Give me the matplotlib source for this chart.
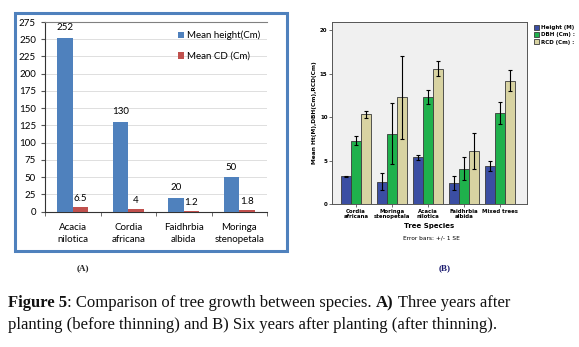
import matplotlib
matplotlib.use("Agg")
import matplotlib.pyplot as plt
import numpy as np
from matplotlib.patches import Rectangle

# Panel A data (three years after planting)
species_a = ["Acacia\nnilotica", "Cordia\nafricana", "Faidhrbia\nalbida", "Moringa\nstenopetala"]
mean_height = [252, 130, 20, 50]
mean_cd = [6.5, 4, 1.2, 1.8]
height_lbl = ["252", "130", "20", "50"]
cd_lbl = ["6.5", "4", "1.2", "1.8"]

# Panel B data (six years after planting)
species_b = ["Cordia\nafricana", "Moringa\nstenopetala", "Acacia\nnilotica", "Faidhrbia\nalbida", "Mixed trees"]
height_m = [3.2, 2.6, 5.4, 2.4, 4.4]
height_se = [0.1, 1.0, 0.3, 0.8, 0.55]
dbh_cm = [7.3, 8.1, 12.35, 4.1, 10.5]
dbh_se = [0.5, 3.5, 0.8, 1.35, 1.25]
rcd_cm = [10.35, 12.3, 15.6, 6.1, 14.2]
rcd_se = [0.4, 4.8, 0.85, 2.05, 1.2]

W, H = 579, 347
fig = plt.figure(figsize=(W / 100, H / 100), dpi=100)
fig.patch.set_facecolor("white")

def fx(px):
    return px / W

def fy(py):
    return 1 - py / H

# ---------- Panel A ----------
fig.patches.append(Rectangle((fx(15), fy(251)), fx(287) - fx(15), fy(13) - fy(251),
                             transform=fig.transFigure, fill=False,
                             edgecolor="#4f81bd", linewidth=2.2))

axa = fig.add_axes([fx(45), fy(211.7), fx(267) - fx(45), fy(22) - fy(211.7)])
xa = np.arange(len(species_a))
bw = 0.28
b1 = axa.bar(xa - 0.14, mean_height, bw, color="#4f81bd", label="Mean height(Cm)", zorder=3)
b2 = axa.bar(xa + 0.14, mean_cd, bw, color="#c0504d", label="Mean CD (Cm)", zorder=3)
for rect, s in zip(b1, height_lbl):
    axa.annotate(s, (rect.get_x() + rect.get_width() / 2, rect.get_height()),
                 xytext=(0, 4), textcoords="offset points", ha="center", va="bottom",
                 fontsize=7, family="Lato")
for rect, s in zip(b2, cd_lbl):
    axa.annotate(s, (rect.get_x() + rect.get_width() / 2, rect.get_height()),
                 xytext=(0, 3), textcoords="offset points", ha="center", va="bottom",
                 fontsize=7, family="Lato")

axa.set_xlim(-0.5, 3.5)
axa.set_ylim(0, 275)
axa.set_yticks(np.arange(0, 276, 25))
axa.yaxis.grid(True, color="#d9d9d9", linewidth=0.6, zorder=0)
axa.set_axisbelow(True)
axa.set_xticks(xa)
axa.set_xticklabels(species_a, fontsize=7, family="Lato", linespacing=1.5)
axa.tick_params(axis="x", length=0, pad=8)
axa.set_xticks(np.arange(-0.5, 3.6, 1), minor=True)
axa.tick_params(axis="x", which="minor", length=3, direction="out", color="#555555")
axa.tick_params(axis="y", labelsize=7, length=3, color="#555555")
for t in axa.get_yticklabels():
    t.set_family("Lato")
axa.spines["right"].set_visible(False)
axa.spines["top"].set_color("#808080")
axa.spines["left"].set_color("#333333")
axa.spines["bottom"].set_color("#333333")
axa.legend(loc="upper right", bbox_to_anchor=(1.01, 1.0), frameon=False,
           prop={"family": "Lato", "size": 7}, handlelength=0.6, handleheight=0.6,
           handletextpad=0.3, labelspacing=1.2)

fig.text(fx(83), fy(268), "(A)", fontsize=6.5, fontweight="bold", family="Liberation Serif",
         ha="center", va="center", color="#222222")

# ---------- Panel B ----------
axb = fig.add_axes([fx(331.7), fy(204.3), fx(527) - fx(331.7), fy(21.7) - fy(204.3)])
axb.set_facecolor("#f0f0f0")
xb = np.arange(len(species_b))
wb = 0.278
ek = dict(ecolor="black", elinewidth=0.8, capsize=1.4, capthick=0.8)
axb.bar(xb - wb, height_m, wb, yerr=height_se, color="#3b4ea3", edgecolor="#3a3a3a",
        linewidth=0.6, label="Height (M)", error_kw=ek)
axb.bar(xb, dbh_cm, wb, yerr=dbh_se, color="#1fb14c", edgecolor="#3a3a3a",
        linewidth=0.6, label="DBH (Cm) :", error_kw=ek)
axb.bar(xb + wb, rcd_cm, wb, yerr=rcd_se, color="#d8d3a2", edgecolor="#3a3a3a",
        linewidth=0.6, label="RCD (Cm) :", error_kw=ek)
axb.set_xlim(-0.67, 4.75)
axb.set_ylim(0, 21)
axb.set_yticks([0, 5, 10, 15, 20])
axb.set_xticks(xb)
axb.set_xticklabels(species_b, fontsize=3.9, fontweight="bold", linespacing=1.1)
axb.tick_params(axis="x", length=2, width=0.5, pad=1.2, color="#333333")
axb.tick_params(axis="y", labelsize=4, length=2, width=0.5, pad=1, color="#333333")
for t in axb.get_yticklabels():
    t.set_fontweight("bold")
for sp in axb.spines.values():
    sp.set_color("#555555")
    sp.set_linewidth(0.7)
axb.set_xlabel("Tree Species", fontsize=5, fontweight="bold", labelpad=3)
axb.set_ylabel("Mean Ht(M),DBH(Cm),RCD(Cm)", fontsize=4.2, fontweight="bold", labelpad=2)
fig.text(fx(431), fy(237.7), "Error bars: +/- 1 SE", fontsize=4.2, ha="center", va="center")
axb.legend(loc="upper left", bbox_to_anchor=(1.02, 1.0), frameon=False,
           prop={"size": 4, "weight": "bold"}, handlelength=0.9, handleheight=0.9,
           handletextpad=0.3, labelspacing=0.35, borderaxespad=0.2)

fig.text(fx(445), fy(268), "(B)", fontsize=6.5, fontweight="bold", family="Liberation Serif",
         ha="center", va="center", color="#1a1a6e")

# ---------- Caption ----------
renderer = fig.canvas.get_renderer()

def rich_line(x_px, base_px, parts, size=12):
    x = fx(x_px)
    for s, w in parts:
        t = fig.text(x, fy(base_px), s, fontsize=size, fontweight=w,
                     family="Liberation Serif", va="baseline", color="#111111")
        x += t.get_window_extent(renderer).width / fig.bbox.width

rich_line(8, 307, [("Figure 5", "bold"),
                   (": Comparison of tree growth between species. ", "normal"),
                   ("A)", "bold"), (" Three years after", "normal")])
rich_line(8, 329, [("planting (before thinning) and B) Six years after planting (after thinning).", "normal")])

fig.savefig("out.png", dpi=100)
